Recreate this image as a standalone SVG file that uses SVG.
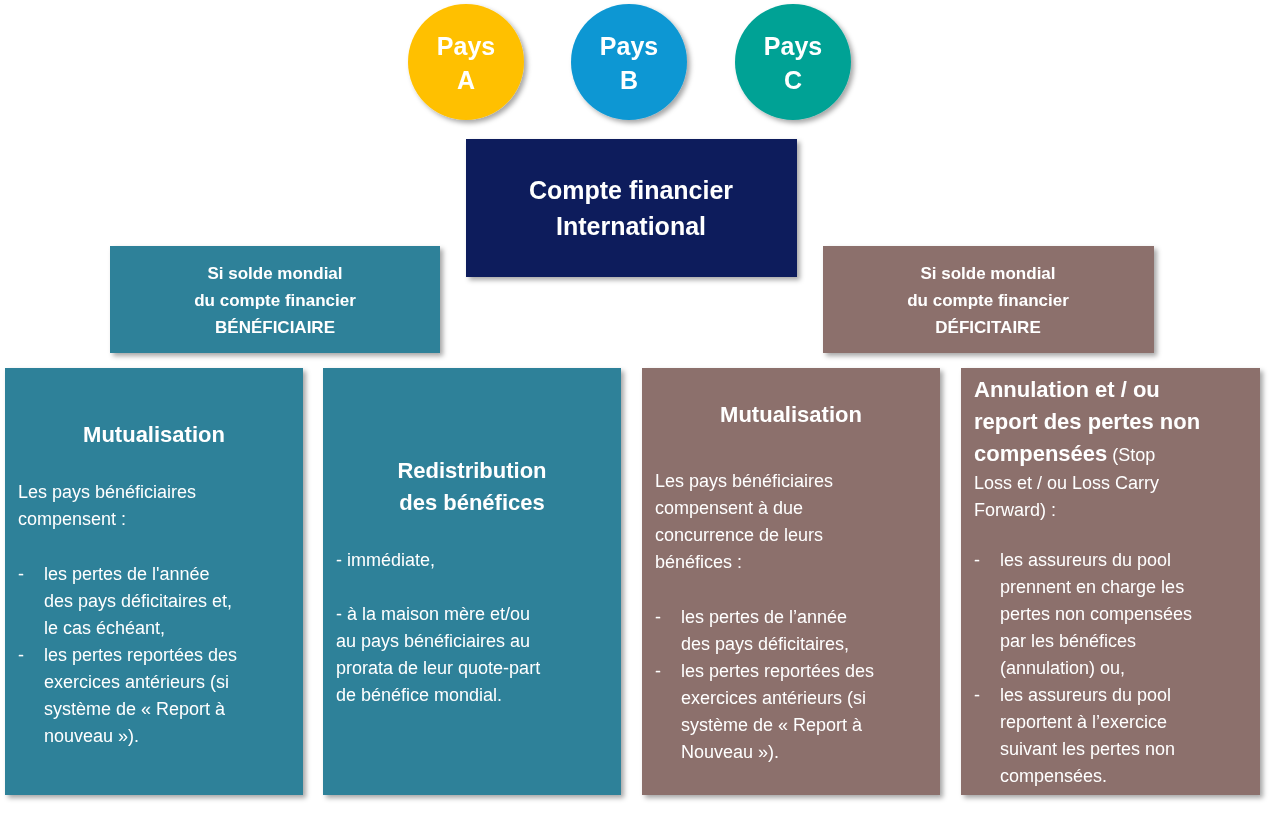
<svg xmlns="http://www.w3.org/2000/svg" width="1280" height="814" viewBox="0 0 1280 814">
<defs>
<filter id="sh" x="-10%" y="-10%" width="130%" height="130%"><feDropShadow dx="3" dy="3" stdDeviation="2.5" flood-color="#000" flood-opacity="0.35"/></filter>
<style>
.t{font-family:"Liberation Sans",Arial,sans-serif;fill:#fff}
.b{font-weight:bold}
.h{font-size:17px;font-weight:bold}
.ti{font-size:22px;font-weight:bold}
.bd{font-size:18px}
.teal{fill:#2F8199}
.brown{fill:#8C706C}
</style>
</defs>
<rect width="1280" height="814" fill="#fff"/>
<g id="payA" filter="url(#sh)"><circle cx="466" cy="62" r="58" fill="#FFC000"/><text class="t b" font-size="25" text-anchor="middle"><tspan x="466" y="55">Pays</tspan><tspan x="466" y="89">A</tspan></text></g>
<g id="payB" filter="url(#sh)"><circle cx="629" cy="62" r="58" fill="#0A97D3"/><text class="t b" font-size="25" text-anchor="middle"><tspan x="629" y="55">Pays</tspan><tspan x="629" y="89">B</tspan></text></g>
<g id="payC" filter="url(#sh)"><circle cx="793" cy="62" r="58" fill="#00A295"/><text class="t b" font-size="25" text-anchor="middle"><tspan x="793" y="55">Pays</tspan><tspan x="793" y="89">C</tspan></text></g>
<g id="compte" filter="url(#sh)"><rect x="466" y="139" width="331" height="138" fill="#0D1F5B"/><text class="t b" font-size="25" text-anchor="middle"><tspan x="631" y="199">Compte financier</tspan><tspan x="631" y="235">International</tspan></text></g>
<g id="benef" filter="url(#sh)"><rect x="110" y="246" width="330" height="107" class="teal"/><text class="t h" text-anchor="middle"><tspan x="275" y="279">Si solde  mondial</tspan><tspan x="275" y="306">du compte financier</tspan><tspan x="275" y="333">BÉNÉFICIAIRE</tspan></text></g>
<g id="defic" filter="url(#sh)"><rect x="823" y="246" width="331" height="107" class="brown"/><text class="t h" text-anchor="middle"><tspan x="988" y="279">Si solde  mondial</tspan><tspan x="988" y="306">du compte financier</tspan><tspan x="988" y="333">DÉFICITAIRE</tspan></text></g>
<g id="mut1" filter="url(#sh)"><rect x="5" y="368" width="298" height="427" class="teal"/>
<text class="t ti" x="154" y="442" text-anchor="middle">Mutualisation</text>
<text class="t bd"><tspan x="18" y="498">Les pays bénéficiaires</tspan><tspan x="18" y="525">compensent :</tspan>
<tspan x="18" y="580">-</tspan><tspan x="44" y="580">les pertes de l'année</tspan><tspan x="44" y="607">des pays déficitaires et,</tspan><tspan x="44" y="634">le cas échéant,</tspan><tspan x="18" y="661">-</tspan><tspan x="44" y="661">les pertes reportées des</tspan><tspan x="44" y="688">exercices antérieurs (si</tspan><tspan x="44" y="715">système de « Report à</tspan><tspan x="44" y="742">nouveau »).</tspan></text></g>
<g id="redis" filter="url(#sh)"><rect x="323" y="368" width="298" height="427" class="teal"/>
<text class="t ti" text-anchor="middle"><tspan x="472" y="478">Redistribution</tspan><tspan x="472" y="510">des bénéfices</tspan></text>
<text class="t bd"><tspan x="336" y="566">- immédiate,</tspan><tspan x="336" y="620">-  à la maison mère et/ou</tspan><tspan x="336" y="647">au pays bénéficiaires au</tspan><tspan x="336" y="674">prorata de leur quote-part</tspan><tspan x="336" y="701">de bénéfice mondial.</tspan></text></g>
<g id="mut2" filter="url(#sh)"><rect x="642" y="368" width="298" height="427" class="brown"/>
<text class="t ti" x="791" y="422" text-anchor="middle">Mutualisation</text>
<text class="t bd"><tspan x="655" y="487">Les pays bénéficiaires</tspan><tspan x="655" y="514">compensent à due</tspan><tspan x="655" y="541">concurrence de leurs</tspan><tspan x="655" y="568">bénéfices :</tspan>
<tspan x="655" y="623">-</tspan><tspan x="681" y="623">les pertes de l’année</tspan><tspan x="681" y="650">des pays déficitaires,</tspan><tspan x="655" y="677">-</tspan><tspan x="681" y="677">les pertes reportées des</tspan><tspan x="681" y="704">exercices antérieurs (si</tspan><tspan x="681" y="731">système de « Report à</tspan><tspan x="681" y="758">Nouveau »).</tspan></text></g>
<g id="annul" filter="url(#sh)"><rect x="961" y="368" width="299" height="427" class="brown"/>
<text class="t"><tspan class="ti" x="974" y="397">Annulation et / ou</tspan><tspan class="ti" x="974" y="429">report des pertes non</tspan><tspan class="ti" x="974" y="461">compensées</tspan><tspan class="bd"> (Stop</tspan><tspan class="bd" x="974" y="489">Loss et / ou Loss Carry</tspan><tspan class="bd" x="974" y="516">Forward) :</tspan></text>
<text class="t bd"><tspan x="974" y="566">-</tspan><tspan x="1000" y="566">les assureurs du pool</tspan><tspan x="1000" y="593">prennent en charge les</tspan><tspan x="1000" y="620">pertes non compensées</tspan><tspan x="1000" y="647">par les bénéfices</tspan><tspan x="1000" y="674">(annulation) ou,</tspan><tspan x="974" y="701">-</tspan><tspan x="1000" y="701">les assureurs du pool</tspan><tspan x="1000" y="728">reportent à l’exercice</tspan><tspan x="1000" y="755">suivant les pertes non</tspan><tspan x="1000" y="782">compensées.</tspan></text></g>
<g id="connectors"/>
</svg>
